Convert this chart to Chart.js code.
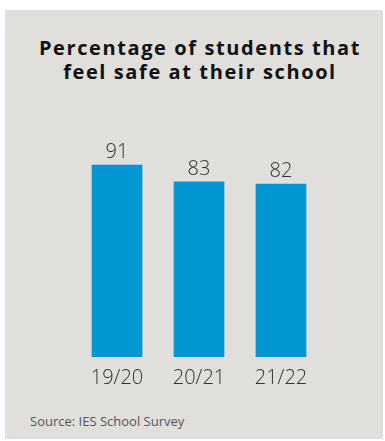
<!DOCTYPE html>
<html>
<head>
<meta charset="utf-8">
<script src="https://cdn.jsdelivr.net/npm/chart.js@4/dist/chart.umd.min.js"></script>
<style>
    html, body { margin: 0; padding: 0; background: #fff; }
    #panel {
        position: absolute; left: 5px; top: 10px; width: 378px; height: 429px;
        background: #e0dfdb;
    }
    #title {
        position: absolute; left: 0; top: 26px; width: 390px;
        text-align: center; font-family: "Open Sans", sans-serif; font-weight: 700;
        font-size: 20px; line-height: 24px; letter-spacing: 1.6px; color: #111;
    }
    #source {
        position: absolute; left: 25px; top: 402px;
        font-family: "Open Sans", sans-serif; font-size: 13px; color: #555;
    }
    #wrap { position: absolute; left: 0; top: 0; width: 385px; height: 441px; }
</style>
</head>
<body>
<div id="panel">
    <div id="title">Percentage of students that<br>feel safe at their school</div>
    <div id="source">Source: IES School Survey</div>
</div>
<div id="wrap"><canvas id="chart"></canvas></div>
<script>
var years = ['19/20', '20/21', '21/22'];
var safePct = [91, 83, 82];

var valueLabels = {
    id: 'valueLabels',
    afterDatasetsDraw: function (chart) {
        var ctx = chart.ctx;
        var meta = chart.getDatasetMeta(0);
        ctx.save();
        ctx.font = '300 20px "Open Sans"';
        ctx.fillStyle = '#333';
        ctx.textAlign = 'center';
        ctx.textBaseline = 'alphabetic';
        meta.data.forEach(function (bar, i) {
            ctx.fillText(String(safePct[i]), bar.x, bar.y - 7);
        });
        ctx.restore();
    }
};

new Chart(document.getElementById('chart'), {
    type: 'bar',
    data: {
        labels: years,
        datasets: [{
            data: safePct,
            backgroundColor: '#0097d2',
            barThickness: 50
        }]
    },
    options: {
        responsive: true,
        maintainAspectRatio: false,
        animation: false,
        layout: { padding: { left: 76, right: 63, top: 146, bottom: 42 } },
        plugins: { legend: { display: false }, tooltip: { enabled: false } },
        scales: {
            x: {
                grid: { display: false, drawTicks: false },
                border: { display: false },
                ticks: { color: '#333', padding: 9, font: { family: 'Open Sans', size: 20, weight: '300' } }
            },
            y: { display: false, min: 0, max: 100 }
        }
    },
    plugins: [valueLabels]
});
</script>
</body>
</html>
